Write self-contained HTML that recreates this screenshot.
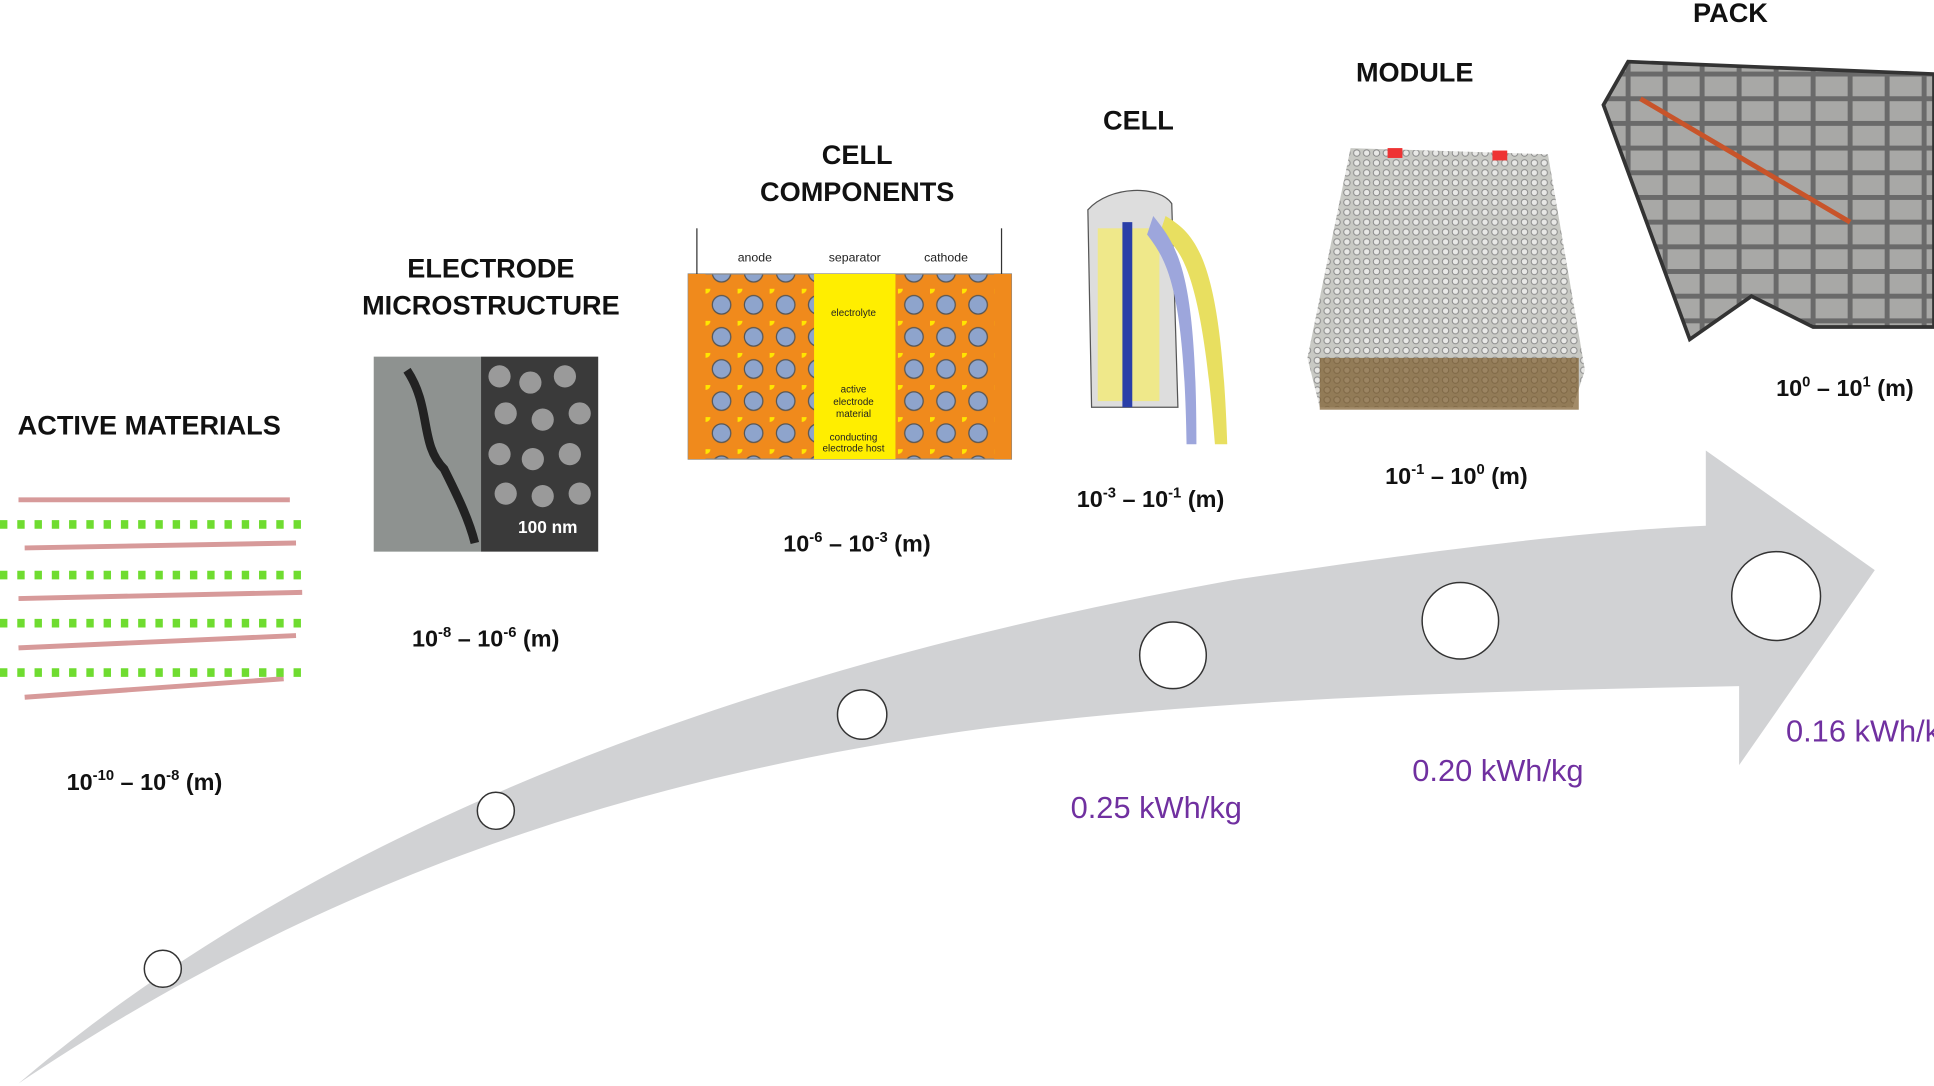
<!DOCTYPE html>
<html><head><meta charset="utf-8"><style>
html,body{margin:0;padding:0;background:#fff;}
svg{display:block;}
.t{font-family:"Liberation Sans",Arial,sans-serif;font-weight:bold;font-size:22px;fill:#111;text-anchor:middle;}
.s{font-family:"Liberation Sans",Arial,sans-serif;font-weight:bold;font-size:19px;fill:#111;}
.p{font-family:"Liberation Sans",Arial,sans-serif;font-size:25px;fill:#7030a0;}
</style></head><body>
<svg width="1934" height="1086" viewBox="0 0 1568 880" preserveAspectRatio="none" xmlns="http://www.w3.org/2000/svg">
<defs>
<pattern id="dots" width="26" height="26" patternUnits="userSpaceOnUse">
<rect width="26" height="26" fill="#f08a1c"/>
<circle cx="13" cy="13" r="7.5" fill="#8ea4cc" stroke="#555" stroke-width="1"/>
<circle cx="0" cy="0" r="4" fill="#ffe600"/>
</pattern>
<pattern id="mod" width="8" height="8" patternUnits="userSpaceOnUse">
<rect width="8" height="8" fill="#c8c9c4"/><circle cx="4" cy="4" r="2.6" fill="#e8e8e6" stroke="#888" stroke-width="0.8"/>
</pattern>
<pattern id="pk" width="30" height="20" patternUnits="userSpaceOnUse">
<rect width="30" height="20" fill="#6a6a6a"/><rect x="2" y="2" width="26" height="16" fill="#a8a8a6"/>
</pattern>
</defs>
<path d="M15,878 C200,720 500,560 1000,470 C1200,440 1300,430 1383,426 L1383,365 L1520,462 L1410,620 L1410,556 C1200,560 1000,565 800,590 C500,630 250,720 15,878 Z" fill="#d1d2d4"/>
<g fill="#fff" stroke="#333" stroke-width="1.2">
<circle cx="132" cy="785" r="15"/><circle cx="402" cy="657" r="15"/><circle cx="699" cy="579" r="20"/>
<circle cx="951" cy="531" r="27"/><circle cx="1184" cy="503" r="31"/><circle cx="1440" cy="483" r="36"/>
</g>
<text class="t" x="121" y="352">ACTIVE MATERIALS</text>
<text class="t" x="398" y="225">ELECTRODE</text><text class="t" x="398" y="255">MICROSTRUCTURE</text>
<text class="t" x="695" y="133">CELL</text><text class="t" x="695" y="163">COMPONENTS</text>
<text class="t" x="923" y="105">CELL</text>
<text class="t" x="1147" y="66">MODULE</text>
<text class="t" x="1403" y="18">PACK</text>
<text class="s" x="54" y="640">10<tspan font-size="12" dy="-8">-10</tspan><tspan dy="8"> – 10</tspan><tspan font-size="12" dy="-8">-8</tspan><tspan dy="8"> (m)</tspan></text>
<text class="s" x="334" y="524">10<tspan font-size="12" dy="-8">-8</tspan><tspan dy="8"> – 10</tspan><tspan font-size="12" dy="-8">-6</tspan><tspan dy="8"> (m)</tspan></text>
<text class="s" x="635" y="447">10<tspan font-size="12" dy="-8">-6</tspan><tspan dy="8"> – 10</tspan><tspan font-size="12" dy="-8">-3</tspan><tspan dy="8"> (m)</tspan></text>
<text class="s" x="873" y="411">10<tspan font-size="12" dy="-8">-3</tspan><tspan dy="8"> – 10</tspan><tspan font-size="12" dy="-8">-1</tspan><tspan dy="8"> (m)</tspan></text>
<text class="s" x="1123" y="392">10<tspan font-size="12" dy="-8">-1</tspan><tspan dy="8"> – 10</tspan><tspan font-size="12" dy="-8">0</tspan><tspan dy="8"> (m)</tspan></text>
<text class="s" x="1440" y="321">10<tspan font-size="12" dy="-8">0</tspan><tspan dy="8"> – 10</tspan><tspan font-size="12" dy="-8">1</tspan><tspan dy="8"> (m)</tspan></text>
<text class="p" x="868" y="663">0.25 kWh/kg</text>
<text class="p" x="1145" y="633">0.20 kWh/kg</text>
<text class="p" x="1448" y="601">0.16 kWh/kg</text>
<g stroke="#d79a9a" stroke-width="4">
<line x1="15" y1="405" x2="235" y2="405"/><line x1="20" y1="444" x2="240" y2="440"/>
<line x1="15" y1="485" x2="245" y2="480"/><line x1="15" y1="525" x2="240" y2="515"/>
<line x1="20" y1="565" x2="230" y2="550"/>
</g>
<path d="M0,425 h248 M0,466 h248 M0,505 h248 M0,545 h248" stroke="#6fdc30" stroke-width="7" stroke-dasharray="6 8"/>
<rect x="303" y="289" width="87" height="158" fill="#8e9290"/>
<path d="M330,300 C350,330 340,360 360,380 C370,400 380,420 385,440" stroke="#222" stroke-width="7" fill="none"/>
<rect x="390" y="289" width="95" height="158" fill="#3a3a3a"/>
<g fill="#9a9a9a">
<circle cx="405" cy="305" r="9"/><circle cx="430" cy="310" r="9"/><circle cx="458" cy="305" r="9"/>
<circle cx="410" cy="335" r="9"/><circle cx="440" cy="340" r="9"/><circle cx="470" cy="335" r="9"/>
<circle cx="405" cy="368" r="9"/><circle cx="432" cy="372" r="9"/><circle cx="462" cy="368" r="9"/>
<circle cx="410" cy="400" r="9"/><circle cx="440" cy="402" r="9"/><circle cx="470" cy="400" r="9"/>
</g>
<text x="420" y="432" font-family="Liberation Sans" font-weight="bold" font-size="14" fill="#fff">100 nm</text>
<rect x="558" y="222" width="262" height="150" fill="url(#dots)" stroke="#888"/>
<rect x="558" y="222" width="14" height="150" fill="#f08a1c"/>
<rect x="806" y="222" width="14" height="150" fill="#f08a1c"/>
<rect x="660" y="222" width="66" height="150" fill="#ffee00"/>
<g font-family="Liberation Sans" font-size="10" fill="#222" text-anchor="middle">
<text x="612" y="212">anode</text><text x="693" y="212">separator</text><text x="767" y="212">cathode</text>
<text x="692" y="256" font-size="8">electrolyte</text><text x="692" y="318" font-size="8">active</text>
<text x="692" y="328" font-size="8">electrode</text><text x="692" y="338" font-size="8">material</text>
<text x="692" y="357" font-size="8">conducting</text><text x="692" y="366" font-size="8">electrode host</text>
</g>
<line x1="565" y1="222" x2="565" y2="185" stroke="#333"/><line x1="812" y1="185" x2="812" y2="222" stroke="#333"/>
<path d="M882,170 C900,150 940,150 950,165 L955,330 L885,330 Z" fill="#ddd" stroke="#555"/>
<rect x="890" y="185" width="50" height="140" fill="#efe88a"/>
<rect x="910" y="180" width="8" height="150" fill="#2a3fa8"/>
<path d="M945,175 C970,190 990,210 995,360 L985,360 C975,230 960,200 940,190 Z" fill="#e8df60"/>
<path d="M935,175 C955,200 970,220 970,360 L962,360 C960,230 945,210 930,190 Z" fill="#9da6dc"/>
<path d="M1095,120 L1255,125 L1285,300 L1275,330 L1070,330 L1060,290 Z" fill="url(#mod)"/>
<rect x="1070" y="290" width="210" height="42" fill="#7a5a2a" opacity="0.7"/>
<rect x="1125" y="120" width="12" height="8" fill="#e33"/><rect x="1210" y="122" width="12" height="8" fill="#e33"/>
<path d="M1300,85 L1320,50 L1568,60 L1568,265 L1470,265 L1420,240 L1370,275 Z" fill="url(#pk)" stroke="#333" stroke-width="3"/>
<path d="M1330,80 L1500,180" stroke="#c8542a" stroke-width="4"/>
</svg>
</body></html>
